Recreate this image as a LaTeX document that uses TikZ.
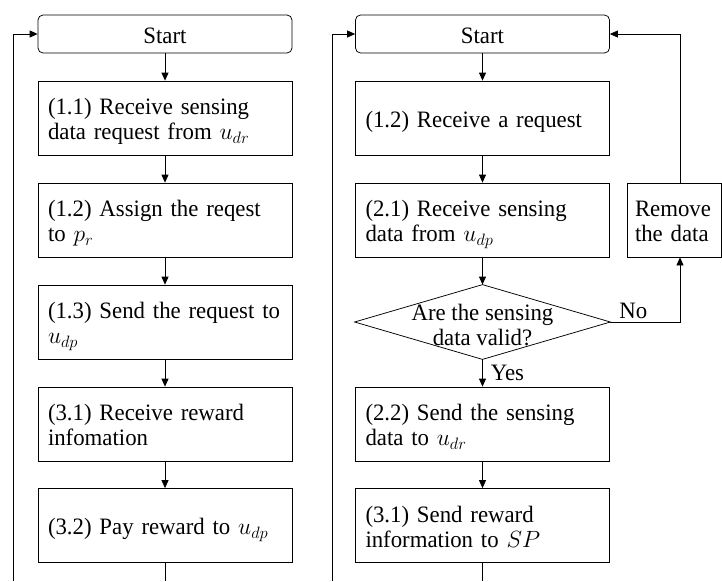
\RequirePackage{fix-cm}
\documentclass[tikz,border=0pt]{standalone}
\usepackage{fontspec}
\setmainfont[FakeStretch=0.97]{Liberation Serif}
\usetikzlibrary{arrows.meta}

% fixed top and bottom struts so every text block sits at the same height
\newcommand{\topstrut}{\rule{0pt}{26pt}}
\newcommand{\botstrut}{\rule[-8pt]{0pt}{8pt}}

\begin{document}
\begin{tikzpicture}[x=1pt,y=-1pt,
  font=\fontsize{23.5}{25}\selectfont,
  every path/.style={line width=0.75pt},
  txt/.style={execute at begin node=\topstrut, execute at end node=\botstrut},
  stepbox/.style={txt, draw, rectangle, text width=234pt, minimum height=74pt,
    inner xsep=10pt, inner ysep=0pt, align=left},
  startbox/.style={txt, draw, rectangle, rounded corners=5pt,
    minimum width=254pt, minimum height=38pt, inner sep=0pt},
  arr/.style={-{Triangle[length=8pt,width=7pt]}},
  lbl/.style={inner sep=3pt}]

\useasboundingbox (0,0) rectangle (722,581);

% ---------- left flow ----------
\node[startbox] (sL) at (165,34) {Start};
\node[stepbox] (a11) at (165,118) {\mbox{(1.1) Receive sensing}\\\mbox{data request from $u_{dr}$}};
\node[stepbox] (a12) at (165,220) {\mbox{(1.2) Assign the reqest}\\to $p_{r}$};
\node[stepbox] (a13) at (165,322) {\mbox{(1.3) Send the request to}\\$u_{dp}$};
\node[stepbox] (a31) at (165,424) {\mbox{(3.1) Receive reward}\\infomation};
\node[stepbox] (a32) at (165,525.5) {\mbox{(3.2) Pay reward to $u_{dp}$}};

\coordinate (endL) at (165,581);
\coordinate (loopL) at (13,581);

\draw[arr] (sL) -- (a11);
\draw[arr] (a11) -- (a12);
\draw[arr] (a12) -- (a13);
\draw[arr] (a13) -- (a31);
\draw[arr] (a31) -- (a32);
\draw (a32.south) -- (endL);
\draw[arr] (loopL) |- (sL.west);

% ---------- right flow ----------
\node[startbox] (sR) at (482.5,34) {Start};
\node[stepbox] (b12) at (482.5,118) {\mbox{(1.2) Receive a request}};
\node[stepbox] (b21) at (482.5,220) {\mbox{(2.1) Receive sensing}\\\mbox{data from $u_{dp}$}};
\node[inner sep=0pt, minimum width=255pt, minimum height=74pt] (dec) at (482.5,322) {};
\draw (dec.north) -- (dec.east) -- (dec.south) -- (dec.west) -- cycle;
\node[txt, inner sep=0pt, align=center] (dectxt) at (482.5,329) {Are the sensing\\data valid?};
\node[stepbox] (b22) at (482.5,424) {\mbox{(2.2) Send the sensing}\\\mbox{data to $u_{dr}$}};
\node[stepbox] (b31) at (482.5,525.5) {\mbox{(3.1) Send reward}\\\mbox{information to $SP$}};
\node[txt, draw, rectangle, text width=78pt, minimum height=74pt,
  inner xsep=8pt, inner ysep=0pt, align=left] (rem) at (674,220) {Remove\\\mbox{the data}};

\coordinate (endR) at (482.5,581);
\coordinate (loopR) at (332,581);
\coordinate (turn) at (680,0);

\draw[arr] (sR) -- (b12);
\draw[arr] (b12) -- (b21);
\draw[arr] (b21) -- (dec.north);
\draw[arr] (dec.south) -- node[inner xsep=8pt, inner ysep=0pt, right] (yes) {Yes} (b22);
\draw[arr] (b22) -- (b31);
\draw[arr] (dec.east) -- node[lbl, above, pos=0.33] (no) {No} (dec.east -| turn)
  -- (rem.south -| turn);
\draw[arr] (rem.north -| turn) |- (sR.east);
\draw (b31.south) -- (endR);
\draw[arr] (loopR) |- (sR.west);

\end{tikzpicture}
\end{document}
